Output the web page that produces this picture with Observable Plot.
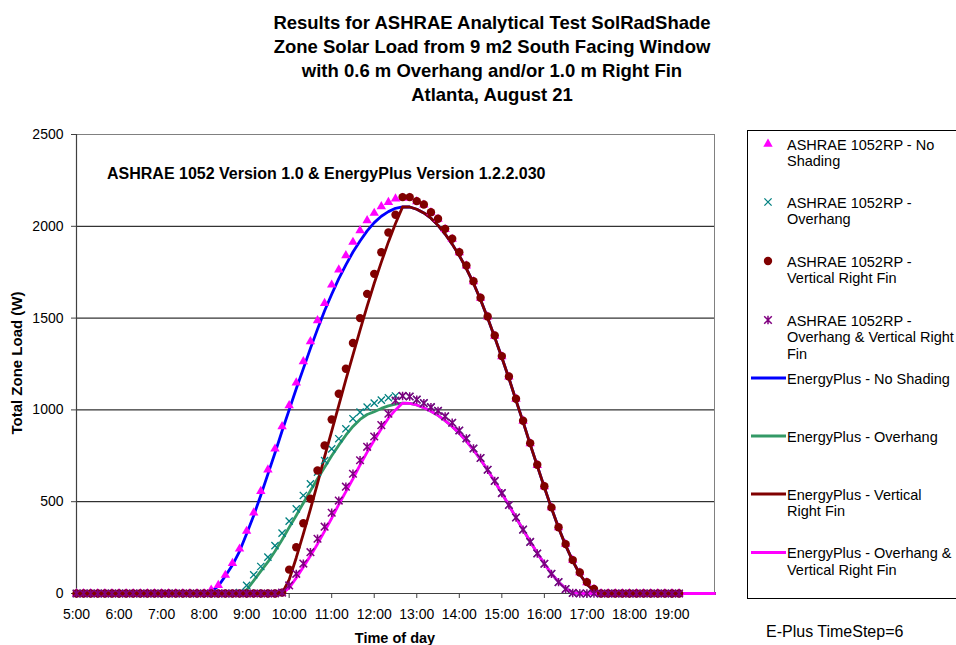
<!DOCTYPE html>
<html>
<head>
<meta charset="utf-8">
<script src="https://cdn.jsdelivr.net/npm/d3@7"></script>
<script src="https://cdn.jsdelivr.net/npm/@observablehq/plot@0.6"></script>
<style>
  body { margin: 0; background: #fff; }
  #wrap { position: relative; width: 956px; height: 645px; overflow: hidden; background: #fff;
          font-family: "Liberation Sans", Arial, sans-serif; }
</style>
</head>
<body>
<div id="wrap"></div>
<script>
// ---------- Axis categories / ticks ----------
const hourTicks  = [5, 6, 7, 8, 9, 10, 11, 12, 13, 14, 15, 16, 17, 18, 19];
const hourLabels = ["5:00","6:00","7:00","8:00","9:00","10:00","11:00","12:00","13:00","14:00","15:00","16:00","17:00","18:00","19:00"];
const yTicks = [0, 500, 1000, 1500, 2000, 2500];
const yTickLabels = ["0", "500", "1000", "1500", "2000", "2500"];
const gridValues = [500, 1000, 1500, 2000];

// ---------- Data: 10-minute values (W), one row per hour ----------
// ASHRAE 1052RP series: 5:00 .. 19:10
const ashraeNoShading = [
  0,0,0,0,0,0,
  0,0,0,0,0,0,
  0,0,0,0,0,0,
  0,20,45,100,165,243,
  340,440,557,674,788,910,
  1024,1148,1264,1373,1487,1581,
  1681,1763,1841,1914,1977,2032,
  2072,2108,2131,2150,2155,2155,
  2135,2117,2075,2039,1984,1930,
  1857,1785,1699,1609,1507,1403,
  1291,1180,1059,940,817,699,
  582,468,359,269,182,114,
  60,23,0,0,0,0,
  0,0,0,0,0,0,
  0,0
];
const ashraeOverhang = [
  0,0,0,0,0,0,
  0,0,0,0,0,0,
  0,0,0,0,0,0,
  0,0,0,0,0,5,
  44,102,147,198,261,329,
  394,461,534,597,661,724,
  788,843,897,952,988,1015,
  1037,1053,1066,1076,1076,1073,
  1056,1037,1015,995,965,930,
  888,845,790,738,674,613,
  547,482,414,348,281,218,
  162,107,62,24,3,0,
  0,0,0,0,0,0,
  0,0,0,0,0,0,
  0,0
];
const ashraeFin = [
  0,0,0,0,0,0,
  0,0,0,0,0,0,
  0,0,0,0,0,0,
  0,0,0,0,0,0,
  0,0,0,0,0,5,
  130,252,383,516,670,806,
  948,1088,1224,1364,1500,1632,
  1741,1859,1966,2063,2159,2159,
  2137,2119,2077,2041,1986,1932,
  1859,1787,1701,1611,1509,1405,
  1293,1182,1061,941,819,701,
  584,469,361,269,182,114,
  62,25,0,0,0,0,
  0,0,0,0,0,0,
  0,0
];
const ashraeOverhangFin = [
  0,0,0,0,0,0,
  0,0,0,0,0,0,
  0,0,0,0,0,0,
  0,0,0,0,0,0,
  0,0,0,0,0,5,
  44,107,163,225,298,364,
  440,506,582,652,726,799,
  855,917,979,1051,1076,1073,
  1056,1037,1015,995,965,930,
  888,845,790,738,674,613,
  547,482,414,348,281,218,
  162,107,62,24,3,0,
  0,0,0,0,0,0,
  0,0,0,0,0,0,
  0,0
];
// EnergyPlus series: 5:00 .. 20:00
const epNoShading = [
  0,0,0,0,0,0,
  0,0,0,0,0,0,
  0,0,0,0,0,0,
  0,10,40,95,155,230,
  325,425,535,650,765,885,
  1000,1115,1225,1335,1440,1540,
  1630,1715,1790,1860,1920,1975,
  2020,2055,2080,2098,2106,2105,
  2093,2073,2044,2005,1958,1903,
  1840,1770,1690,1600,1500,1395,
  1285,1172,1052,935,812,695,
  578,465,358,262,178,105,
  50,15,0,0,0,0,
  0,0,0,0,0,0,
  0,0,0,0,0,0,
  0
];
const epOverhang = [
  0,0,0,0,0,0,
  0,0,0,0,0,0,
  0,0,0,0,0,0,
  0,0,0,0,0,0,
  20,70,122,172,230,293,
  360,425,493,560,625,688,
  750,808,862,910,948,975,
  990,1008,1022,1031,1037,1036,
  1027,1012,993,970,942,910,
  872,830,782,730,672,610,
  546,480,413,347,283,220,
  162,108,63,27,5,0,
  0,0,0,0,0,0,
  0,0,0,0,0,0,
  0,0,0,0,0,0,
  0
];
const epFin = [
  0,0,0,0,0,0,
  0,0,0,0,0,0,
  0,0,0,0,0,0,
  0,0,0,0,0,0,
  0,0,0,0,0,0,
  75,195,325,460,600,745,
  885,1025,1165,1300,1435,1565,
  1690,1805,1915,2015,2106,2105,
  2093,2073,2044,2005,1958,1903,
  1840,1770,1690,1600,1500,1395,
  1285,1172,1052,935,812,695,
  578,465,358,262,178,105,
  50,15,0,0,0,0,
  0,0,0,0,0,0,
  0,0,0,0,0,0,
  0
];
const epOverhangFin = [
  0,0,0,0,0,0,
  0,0,0,0,0,0,
  0,0,0,0,0,0,
  0,0,0,0,0,0,
  0,0,0,0,0,0,
  30,85,145,205,270,340,
  410,485,555,625,700,770,
  835,897,955,1000,1037,1036,
  1027,1012,993,970,942,910,
  872,830,782,730,672,610,
  546,480,413,347,283,220,
  162,108,63,27,5,0,
  0,0,0,0,0,0,
  0,0,0,0,0,0,
  0,0,0,0,0,0,
  0
];

const seriesLabels = {
  aNo:  ["ASHRAE 1052RP - No", "Shading"],
  aOv:  ["ASHRAE 1052RP -", "Overhang"],
  aFin: ["ASHRAE 1052RP -", "Vertical Right Fin"],
  aOF:  ["ASHRAE 1052RP -", "Overhang & Vertical Right", "Fin"],
  eNo:  ["EnergyPlus - No Shading"],
  eOv:  ["EnergyPlus - Overhang"],
  eFin: ["EnergyPlus - Vertical", "Right Fin"],
  eOF:  ["EnergyPlus - Overhang &", "Vertical Right Fin"]
};

// ---------- Build tables (time in decimal hours, 10-minute steps from 5:00) ----------
const toRows = arr => arr.map((v, i) => ({t: 5 + i / 6, v}));

// custom marker symbols (Excel-like)
const symTimes = { draw(ctx, size) { const r = Math.sqrt(size / Math.PI);
  ctx.moveTo(-r, -r); ctx.lineTo(r, r); ctx.moveTo(-r, r); ctx.lineTo(r, -r); } };
const symStar = { draw(ctx, size) { const r = Math.sqrt(size / Math.PI);
  ctx.moveTo(-r, -r); ctx.lineTo(r, r); ctx.moveTo(-r, r); ctx.lineTo(r, -r);
  ctx.moveTo(0, -r * 1.1); ctx.lineTo(0, r * 1.1); } };

const C = { magenta: "#FF00FF", teal: "#008080", darkred: "#800000", purple: "#800080",
            blue: "#0000FF", green: "#339966" };
const LW = 2.8;

const W = 956, H = 645;
const chart = Plot.plot({
  width: W, height: H,
  marginLeft: 76, marginRight: 242, marginTop: 134, marginBottom: 52,
  style: { fontFamily: "'Liberation Sans', Arial, sans-serif", fontSize: "14px", background: "transparent", color: "#000" },
  x: { domain: [5, 20] },
  y: { domain: [0, 2500] },
  marks: [
    Plot.ruleY(gridValues, { stroke: "#000", strokeWidth: 1 }),
    Plot.ruleY([2500], { stroke: "#808080", strokeWidth: 1 }),
    Plot.ruleX([20], { stroke: "#808080", strokeWidth: 1 }),
    Plot.axisY({ ticks: yTicks, tickFormat: d => yTickLabels[yTicks.indexOf(d)], tickSize: 5, tickPadding: 8, label: null, fontSize: 14, stroke: "#404040" }),
    Plot.axisX({ ticks: hourTicks, tickFormat: d => hourLabels[hourTicks.indexOf(d)], tickSize: 5, tickPadding: 11, label: null, fontSize: 14, stroke: "#404040" }),
    Plot.ruleX([5], { stroke: "#404040", strokeWidth: 1.2 }),
    Plot.ruleY([0], { stroke: "#404040", strokeWidth: 1.2 }),
    // EnergyPlus lines
    Plot.line(toRows(epNoShading), { x: "t", y: "v", stroke: C.blue, strokeWidth: LW }),
    Plot.line(toRows(epOverhang), { x: "t", y: "v", stroke: C.green, strokeWidth: LW }),
    Plot.line(toRows(epFin), { x: "t", y: "v", stroke: C.darkred, strokeWidth: LW }),
    Plot.line(toRows(epOverhangFin), { x: "t", y: "v", stroke: C.magenta, strokeWidth: LW }),
    // ASHRAE markers
    Plot.dot(toRows(ashraeNoShading), { x: "t", y: "v", symbol: "triangle", r: 3.5, fill: C.magenta, stroke: "none" }),
    Plot.dot(toRows(ashraeOverhang), { x: "t", y: "v", symbol: symTimes, r: 3.6, fill: "none", stroke: C.teal, strokeWidth: 1.3 }),
    Plot.dot(toRows(ashraeFin), { x: "t", y: "v", symbol: "circle", r: 4.2, fill: C.darkred, stroke: "none" }),
    Plot.dot(toRows(ashraeOverhangFin), { x: "t", y: "v", symbol: symStar, r: 3.8, fill: "none", stroke: C.purple, strokeWidth: 1.5 })
  ]
});
chart.style.position = "absolute";
chart.style.left = "0px";
chart.style.top = "0px";
document.getElementById("wrap").append(chart);

// ---------- Overlay: titles, legend, notes ----------
const ov = d3.select("#wrap").append("svg")
  .attr("width", W).attr("height", H)
  .style("position", "absolute").style("left", "0px").style("top", "0px")
  .style("font-family", "'Liberation Sans', Arial, sans-serif");

const titleLines = [
  "Results for ASHRAE Analytical Test SolRadShade",
  "Zone Solar Load from 9 m2 South Facing Window",
  "with 0.6 m Overhang and/or 1.0 m Right Fin",
  "Atlanta, August 21"
];
titleLines.forEach((s, i) => ov.append("text").attr("x", 492).attr("y", 29 + i * 24)
  .attr("text-anchor", "middle").attr("font-size", 18.5).attr("font-weight", "bold").text(s));

ov.append("text").attr("x", 107).attr("y", 179).attr("font-size", 16).attr("font-weight", "bold")
  .text("ASHRAE 1052 Version 1.0 & EnergyPlus Version 1.2.2.030");

ov.append("text").attr("transform", "translate(22,363) rotate(-90)").attr("text-anchor", "middle")
  .attr("font-size", 15).attr("font-weight", "bold").text("Total Zone Load (W)");
ov.append("text").attr("x", 395).attr("y", 643).attr("text-anchor", "middle")
  .attr("font-size", 14.5).attr("font-weight", "bold").text("Time of day");

// legend
ov.append("rect").attr("x", 747.5).attr("y", 130.5).attr("width", 230).attr("height", 468)
  .attr("fill", "none").attr("stroke", "#000").attr("stroke-width", 1);

const legendItems = [
  { key: "aNo", y: 144, kind: "dot", sym: d3.symbolTriangle, r: 3.5, fill: C.magenta },
  { key: "aOv", y: 202, kind: "dot", sym: symTimes, r: 3.6, stroke: C.teal, sw: 1.3 },
  { key: "aFin", y: 261, kind: "dot", sym: d3.symbolCircle, r: 4.2, fill: C.darkred },
  { key: "aOF", y: 320, kind: "dot", sym: symStar, r: 3.8, stroke: C.purple, sw: 1.5 },
  { key: "eNo", y: 378, kind: "line", stroke: C.blue },
  { key: "eOv", y: 436, kind: "line", stroke: C.green },
  { key: "eFin", y: 494, kind: "line", stroke: C.darkred },
  { key: "eOF", y: 552.5, kind: "line", stroke: C.magenta }
];
legendItems.forEach(it => {
  if (it.kind === "dot") {
    ov.append("path")
      .attr("d", d3.symbol(it.sym, Math.PI * it.r * it.r)())
      .attr("transform", `translate(768,${it.y})`)
      .attr("fill", it.fill || "none").attr("stroke", it.stroke || "none")
      .attr("stroke-width", it.sw || 0);
  } else {
    ov.append("line").attr("x1", 751).attr("x2", 786).attr("y1", it.y).attr("y2", it.y)
      .attr("stroke", it.stroke).attr("stroke-width", LW);
  }
  seriesLabels[it.key].forEach((s, j) => ov.append("text")
    .attr("x", 787).attr("y", it.y + 5.5 + j * 16.5).attr("font-size", 14.5).text(s));
});

ov.append("text").attr("x", 766).attr("y", 637).attr("font-size", 16).text("E-Plus TimeStep=6");
</script>
</body>
</html>
